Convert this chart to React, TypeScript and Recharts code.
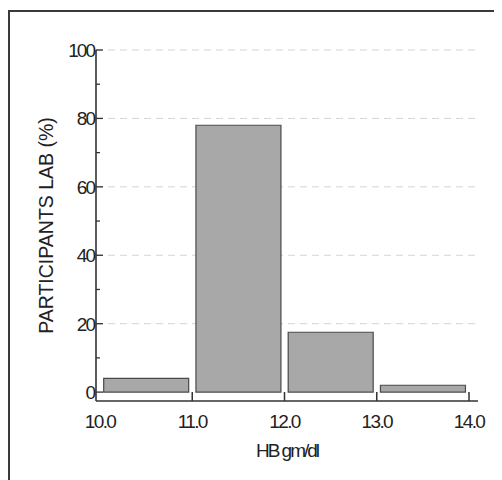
import { Bar, BarChart, CartesianGrid, XAxis, YAxis } from "recharts"

// HB ranges (gm/dl), bins plotted at their mid point
const binMids = [10.5, 11.5, 12.5, 13.5]
const participantsPct = [4, 78, 17.5, 2]
const xTicks = [10, 11, 12, 13, 14]
const yTicks = [0, 10, 20, 30, 40, 50, 60, 70, 80, 90, 100]
const gridValues = [20, 40, 60, 80, 100]

const data = binMids.map((mid, i) => ({ mid, pct: participantsPct[i] }))

const font = "'Liberation Sans', Arial, sans-serif"

const YTick = (props: any) => {
  const { x, y, payload } = props
  const major = payload.value % 20 === 0
  return (
    <g>
      <line x1={x} x2={x + (major ? 7 : 4)} y1={y} y2={y} stroke="#333" strokeWidth={1.3} />
      {major && (
        <text x={x - 2} y={y} dy="0.36em" textAnchor="end" fontSize={19} letterSpacing={-2} fill="#222" fontFamily={font}>
          {payload.value}
        </text>
      )}
    </g>
  )
}

const XTick = (props: any) => {
  const { x, y, payload } = props
  return (
    <g>
      {payload.value > 10 && <line x1={x} x2={x} y1={y} y2={y - 9} stroke="#333" strokeWidth={1.5} />}
      <text x={x} y={y + 27} textAnchor="middle" fontSize={19} letterSpacing={-1.6} fill="#222" fontFamily={font}>
        {payload.value.toFixed(1)}
      </text>
    </g>
  )
}

export default function App() {
  return (
    <div
      style={{
        position: "relative",
        top: 2,
        width: 489,
        height: 472,
        border: "2px solid #3a3a3a",
        background: "#fff",
      }}
    >
      <BarChart
        width={489}
        height={470}
        data={data}
        margin={{ top: 38, right: 21, left: 26, bottom: 21 }}
        barCategoryGap="4%"
      >
        <CartesianGrid
          horizontal
          vertical={false}
          horizontalValues={gridValues}
          stroke="#d4d4d4"
          strokeDasharray="7 5"
        />
        <XAxis
          dataKey="mid"
          type="number"
          domain={[10, 14]}
          ticks={xTicks}
          padding={{ left: 4, right: 9 }}
          height={60}
          tickSize={0}
          tickMargin={0}
          tickLine={false}
          tick={<XTick />}
          axisLine={{ stroke: "#333", strokeWidth: 1.6 }}
          label={{
            value: "HB gm/dl",
            position: "insideBottom",
            offset: 4,
            fontSize: 19,
            fill: "#222",
            letterSpacing: -2,
            fontFamily: font,
          }}
        />
        <YAxis
          type="number"
          domain={[-2.6, 100]}
          ticks={yTicks}
          allowDataOverflow
          width={60}
          tickSize={0}
          tickMargin={0}
          tickLine={false}
          tick={<YTick />}
          axisLine={{ stroke: "#333", strokeWidth: 1.6 }}
          label={{
            value: "PARTICIPANTS LAB (%)",
            angle: -90,
            position: "insideLeft",
            offset: 10,
            fontSize: 19.5,
            fill: "#222",
            fontFamily: font,
            style: { textAnchor: "middle" },
          }}
        />
        <Bar dataKey="pct" fill="#a8a8a8" stroke="#4a4a4a" strokeWidth={1.2} isAnimationActive={false} />
      </BarChart>
    </div>
  )
}
